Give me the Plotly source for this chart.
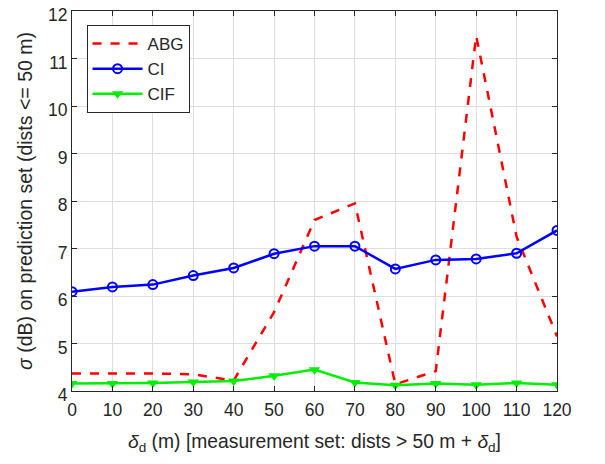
import plotly.graph_objects as go

delta_d = [0, 10, 20, 30, 40, 50, 60, 70, 80, 90, 100, 110, 120]
abg = [4.37, 4.37, 4.37, 4.35, 4.22, 5.66, 7.6, 7.95, 4.14, 4.42, 11.48, 7.25, 5.15]
ci = [6.09, 6.19, 6.24, 6.43, 6.59, 6.89, 7.05, 7.05, 6.57, 6.76, 6.78, 6.90, 7.38]
cif = [4.16, 4.16, 4.17, 4.19, 4.21, 4.32, 4.45, 4.18, 4.12, 4.16, 4.13, 4.17, 4.13]
x_ticks = [0, 10, 20, 30, 40, 50, 60, 70, 80, 90, 100, 110, 120]
y_ticks = [4, 5, 6, 7, 8, 9, 10, 11, 12]
series_names = ["ABG", "CI", "CIF"]

FONT = "Liberation Sans, Arial, sans-serif"

fig = go.Figure()
fig.add_trace(go.Scatter(x=delta_d, y=abg, name=series_names[0], mode="lines",
                         line=dict(color="#ff0000", width=2.5, dash="dash")))
fig.add_trace(go.Scatter(x=delta_d, y=ci, name=series_names[1], mode="lines+markers",
                         line=dict(color="#0000ff", width=2.5),
                         marker=dict(symbol="circle-open", size=9, color="#0000ff",
                                     line=dict(width=2, color="#0000ff"))))
fig.add_trace(go.Scatter(x=delta_d, y=cif, name=series_names[2], mode="lines+markers",
                         line=dict(color="#00ee00", width=2.5),
                         marker=dict(symbol="triangle-down", size=10, color="#00ee00")))

axis_common = dict(showline=True, linecolor="#262626", linewidth=1, mirror="ticks",
                   ticks="inside", ticklen=5, tickcolor="#262626",
                   showgrid=True, gridcolor="#dedede", gridwidth=1, zeroline=False,
                   automargin=False, ticklabeloverflow="allow",
                   tickfont=dict(family=FONT, size=17.5, color="#262626"))

fig.update_layout(
    width=605, height=464,
    margin=dict(l=64, r=56, t=3, b=81),
    paper_bgcolor="white", plot_bgcolor="white",
    font=dict(family=FONT, color="#262626"),
    showlegend=True,
    legend=dict(x=0.03, y=0.963, xanchor="left", yanchor="top",
                bgcolor="white", bordercolor="#262626", borderwidth=1,
                font=dict(family=FONT, size=17, color="#262626"),
                tracegroupgap=0, itemwidth=50),
    xaxis=dict(range=[0, 120], tickvals=x_ticks, ticklabelstandoff=3,
               title=dict(text="<i>δ</i><sub>d</sub> (m) [measurement set: dists > 50 m + <i>δ</i><sub>d</sub>]",
                          font=dict(family=FONT, size=19.3, color="#262626")),
               **axis_common),
    yaxis=dict(range=[4, 12], tickvals=y_ticks, ticklabelshift=4, **axis_common),
    annotations=[dict(text="<i>σ</i> (dB) on prediction set (dists <= 50 m)",
                      xref="paper", yref="paper", x=0, y=0.5, xshift=-47,
                      xanchor="center", yanchor="middle", textangle=-90, showarrow=False,
                      font=dict(family=FONT, size=19.5, color="#262626"))],
)

fig.write_html("out.html")
